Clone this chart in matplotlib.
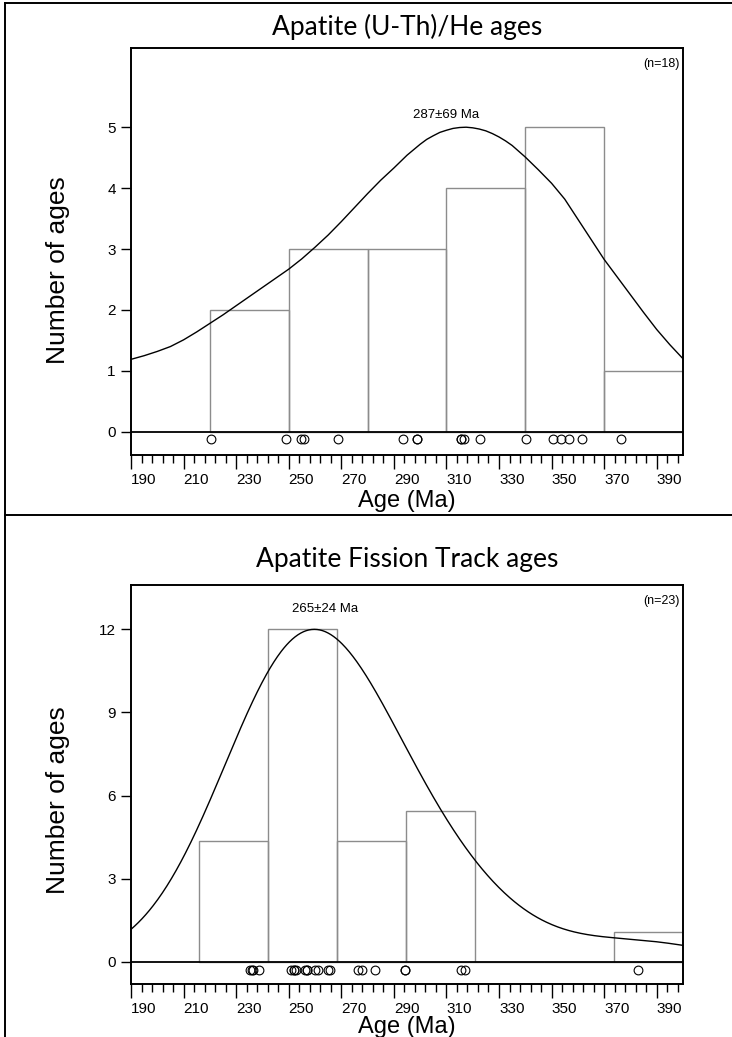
import numpy as np
import matplotlib
matplotlib.use("Agg")
import matplotlib.pyplot as plt
from matplotlib.lines import Line2D

# Apatite (U-Th)/He: single grain ages (Ma), histogram bins and counts
ahe_ages = [220.3, 248.8, 254.5, 255.8, 268.8, 293.6, 298.7, 298.7,
            315.6, 315.6, 316.6, 322.6, 340.2, 350.4, 353.6, 356.8,
            361.6, 376.5]
ahe_edges = [220, 250, 280, 310, 340, 370, 400]
ahe_counts = [2, 3, 3, 4, 5, 1]
ahe_yticks = [0, 1, 2, 3, 4, 5]
# density curve
ahe_curve_x = [190, 195, 200, 205, 210, 215, 220, 225, 230, 235, 240, 245,
               250, 255, 260, 265, 270, 275, 280, 285, 290, 295, 300, 302.5,
               305, 307.5, 310, 312.5, 315, 317.5, 320, 322.5, 325, 327.5,
               330, 332.5, 335, 340, 345, 350, 355, 360, 365, 370, 375, 380,
               385, 390, 395, 400]
ahe_curve_y = [1.19, 1.25, 1.32, 1.40, 1.51, 1.64, 1.78, 1.92, 2.07, 2.22,
               2.37, 2.52, 2.67, 2.84, 3.03, 3.23, 3.45, 3.68, 3.91, 4.13,
               4.33, 4.54, 4.72, 4.80, 4.86, 4.915, 4.95, 4.98, 4.995, 5.00,
               4.99, 4.97, 4.94, 4.895, 4.84, 4.775, 4.70, 4.51, 4.30, 4.08,
               3.82, 3.49, 3.16, 2.83, 2.54, 2.25, 1.96, 1.68, 1.43, 1.20]

# Apatite fission track: single grain ages (Ma), histogram bins and heights
aft_ages = [235.4, 236.0, 236.6, 238.7, 250.8, 252.0, 252.0, 252.8,
            256.3, 257.0, 257.0, 259.9, 261.3, 264.8, 265.8, 276.5,
            277.9, 282.7, 294.3, 294.3, 315.6, 317.0, 382.7]
aft_edges = [215.8, 242.1, 268.4, 294.7, 321.0, 347.3, 373.6, 399.9]
aft_heights = [4.36, 12.0, 4.36, 5.45, 0, 0, 1.09]
aft_yticks = [0, 3, 6, 9, 12]
aft_bandwidth = 28

xticks = list(range(190, 391, 20))
xminor = list(range(190, 401, 4))

W, H = 732, 1037
fig = plt.figure(figsize=(W / 100, H / 100), dpi=100)

num_font = "Liberation Sans"
title_font = "Lato"


def kde(ages, grid, h):
    a = np.array(ages)
    return np.exp(-0.5 * ((grid[:, None] - a[None, :]) / h) ** 2).sum(axis=1)


def panel(top_px, bot_px, ylim, ages, edges, heights, yticks, curve, dot_y,
          est_text, est_pos, n_text, title, title_y, xlab_y, ylab_y):
    ax = fig.add_axes([131 / W, 1 - bot_px / H, 552 / W, (bot_px - top_px) / H])
    lefts = np.array(edges[:-1])
    widths = np.diff(edges)
    ax.bar(lefts, heights, width=widths, align="edge", facecolor="none",
           edgecolor="#8c8c8c", linewidth=1.0, zorder=2)
    ax.plot(curve[0], curve[1], color="black", linewidth=1.0, zorder=3,
            solid_joinstyle="round")
    ax.axhline(0, color="black", linewidth=1.3, zorder=4)
    ax.plot(ages, [dot_y] * len(ages), linestyle="none", marker="o",
            markersize=6.3, markerfacecolor="none", markeredgecolor="black",
            markeredgewidth=0.8, zorder=4)
    ax.set_xlim(190, 400)
    ax.set_ylim(*ylim)
    ax.set_xticks(xticks)
    ax.set_xticks(xminor, minor=True)
    ax.set_xticklabels([str(t) for t in xticks], fontfamily=num_font, fontsize=11)
    for lab in ax.get_xticklabels():
        lab.set_ha("left")
    ax.set_yticks(yticks)
    ax.set_yticklabels([str(t) for t in yticks], fontfamily=num_font, fontsize=11)
    ax.tick_params(axis="x", which="major", direction="out", length=10, width=1, pad=3)
    ax.tick_params(axis="x", which="minor", direction="out", length=6, width=1)
    ax.tick_params(axis="y", direction="out", length=7, width=1, pad=4)
    for s in ax.spines.values():
        s.set_linewidth(1.4)
    ax.text(est_pos[0], est_pos[1], est_text, ha="center", va="center",
            fontfamily=num_font, fontsize=9.5)
    ax.text(0.994, 1 - 16 / (bot_px - top_px), n_text, transform=ax.transAxes,
            ha="right", va="center", fontfamily=num_font, fontsize=9)
    fig.text(407 / W, 1 - title_y / H, title, ha="center", va="center",
             fontfamily=title_font, fontsize=19)
    fig.text(407 / W, 1 - xlab_y / H, "Age (Ma)", ha="center", va="center",
             fontfamily=num_font, fontsize=17)
    fig.text(58 / W, 1 - ylab_y / H, "Number of ages", ha="center", va="center",
             rotation=90, fontfamily=num_font, fontsize=19)
    return ax


panel(48, 455, (-0.38, 6.3), ahe_ages, ahe_edges, ahe_counts, ahe_yticks,
      (ahe_curve_x, ahe_curve_y), -0.12, "287\u00b169 Ma", (310, 5.2), "(n=18)",
      "Apatite (U-Th)/He ages", 27, 501, 270)

grid = np.linspace(190, 400, 600)
aft_dens = kde(aft_ages, grid, aft_bandwidth)
aft_dens = aft_dens / aft_dens.max() * max(aft_heights)
panel(585, 984, (-0.8, 13.6), aft_ages, aft_edges, aft_heights, aft_yticks,
      (grid, aft_dens), -0.29, "265\u00b124 Ma", (263.7, 12.75), "(n=23)",
      "Apatite Fission Track ages", 560, 1027, 800)

# outer frame and divider between the two panels
for xs, ys in [((5, W), (3, 3)), ((5, 5), (3, H)), ((5, W), (515, 515))]:
    fig.add_artist(Line2D([x / W for x in xs], [1 - y / H for y in ys],
                          color="black", linewidth=1.4))

fig.savefig("out.png", dpi=100)
